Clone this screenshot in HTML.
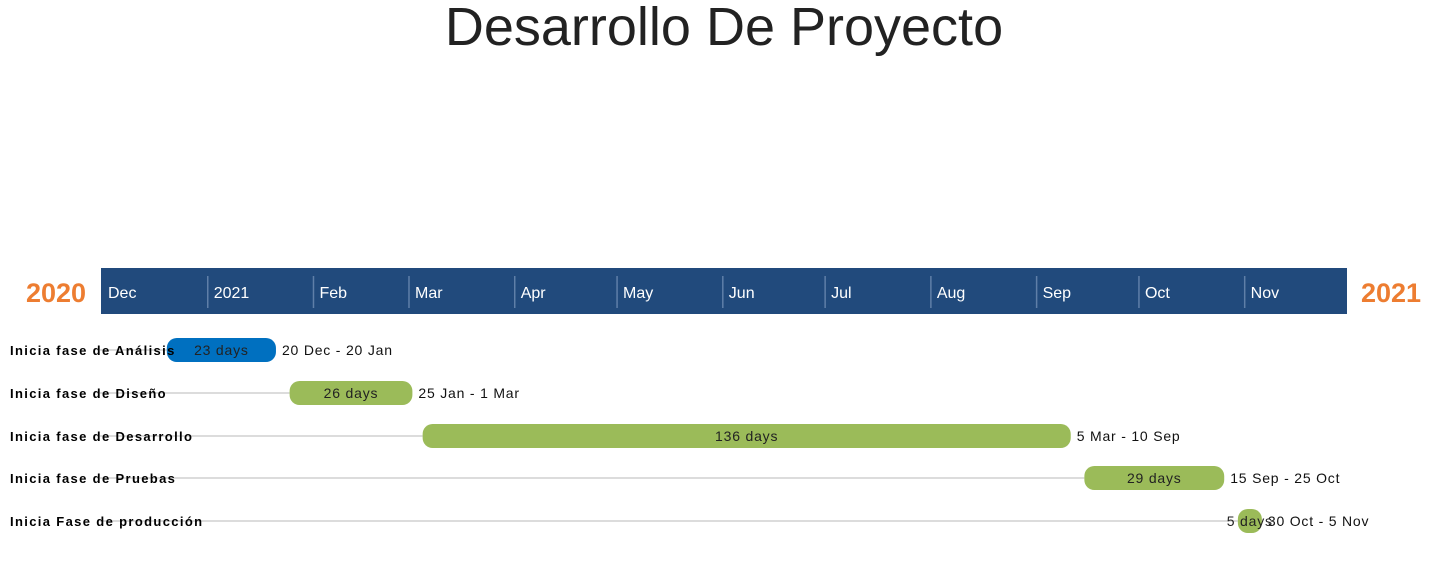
<!DOCTYPE html>
<html><head><meta charset="utf-8"><style>
body{margin:0;background:#fff;width:1442px;height:569px;overflow:hidden;font-family:"Liberation Sans",sans-serif}
</style></head><body>
<svg width="1442" height="569">
<text x="724" y="45" text-anchor="middle" font-size="54" fill="#222">Desarrollo De Proyecto</text>
<rect x="101" y="268" width="1246" height="46" fill="#214a7c"/>
<text x="56" y="302" text-anchor="middle" font-size="27" font-weight="bold" fill="#ed7d31">2020</text>
<text x="1391" y="302" text-anchor="middle" font-size="27" font-weight="bold" fill="#ed7d31">2021</text>
<g id="months"></g><g id="rows"></g>
</svg>
<script>
const monthLabels=["Dec","2021","Feb","Mar","Apr","May","Jun","Jul","Aug","Sep","Oct","Nov"];
const monthStartDays=[0,31,62,90,121,151,182,212,243,274,304,335];
const taskNames=["Inicia fase de Análisis","Inicia fase de Diseño","Inicia fase de Desarrollo","Inicia fase de Pruebas","Inicia Fase de producción"];
const taskStart=[19,55,94,288,333];
const taskEnd=[50,90,283,328,339];
const taskDays=[23,26,136,29,5];
const taskRange=["20 Dec - 20 Jan","25 Jan - 1 Mar","5 Mar - 10 Sep","15 Sep - 25 Oct","30 Oct - 5 Nov"];
const taskColors=["#0070c0","#9bbb59","#9bbb59","#9bbb59","#9bbb59"];
const NS="http://www.w3.org/2000/svg";
const x=d=>102+d*3.411;
const mg=document.getElementById('months');
monthLabels.forEach((m,i)=>{
  const px=x(monthStartDays[i]);
  if(i>0){const l=document.createElementNS(NS,'line');
    l.setAttribute('x1',px);l.setAttribute('x2',px);l.setAttribute('y1',276);l.setAttribute('y2',308);
    l.setAttribute('stroke','#5f7fa8');l.setAttribute('stroke-width','1.5');
    
    
    mg.appendChild(l);}
  const t=document.createElementNS(NS,'text');
  t.setAttribute('x',px+6);t.setAttribute('y',298);t.setAttribute('font-size','16');t.setAttribute('fill','#fff');
  t.textContent=m;
  
  
  mg.appendChild(t);
});
const rg=document.getElementById('rows');
const rowY=[350,393,436,478,521];
taskNames.forEach((n,i)=>{
  const y=rowY[i];const x1=x(taskStart[i]),x2=x(taskEnd[i]+1);
  const ln=document.createElementNS(NS,'line');
  ln.setAttribute('x1',100);ln.setAttribute('x2',x1);ln.setAttribute('y1',y);ln.setAttribute('y2',y);
  ln.setAttribute('stroke','#d0d0d0');ln.setAttribute('stroke-width','1.5');
  
  
  rg.appendChild(ln);
  const r=document.createElementNS(NS,'rect');
  r.setAttribute('x',x1);r.setAttribute('y',y-12);r.setAttribute('width',Math.max(x2-x1,24));r.setAttribute('height',24);
  r.setAttribute('rx',10);r.setAttribute('fill',taskColors[i]);
  
  
  rg.appendChild(r);
  const lb=document.createElementNS(NS,'text');
  lb.setAttribute('x',10);lb.setAttribute('y',y+5);lb.setAttribute('font-size','13');lb.setAttribute('font-weight','bold');
  lb.setAttribute('letter-spacing','1.35');lb.setAttribute('fill','#000');lb.textContent=n;
  
  
  rg.appendChild(lb);
  const d=document.createElementNS(NS,'text');
  d.setAttribute('x',(x1+x2)/2);d.setAttribute('y',y+5);d.setAttribute('text-anchor','middle');d.setAttribute('font-size','14');
  d.setAttribute('letter-spacing','0.8');d.setAttribute('fill','#222');d.textContent=taskDays[i]+' days';
  
  
  rg.appendChild(d);
  const rt=document.createElementNS(NS,'text');
  rt.setAttribute('x',Math.max(x2,x1+24)+6);rt.setAttribute('y',y+5);rt.setAttribute('font-size','14');
  rt.setAttribute('letter-spacing','0.8');rt.setAttribute('fill','#111');rt.textContent=taskRange[i];
  
  
  rg.appendChild(rt);
});
</script>
</body></html>
